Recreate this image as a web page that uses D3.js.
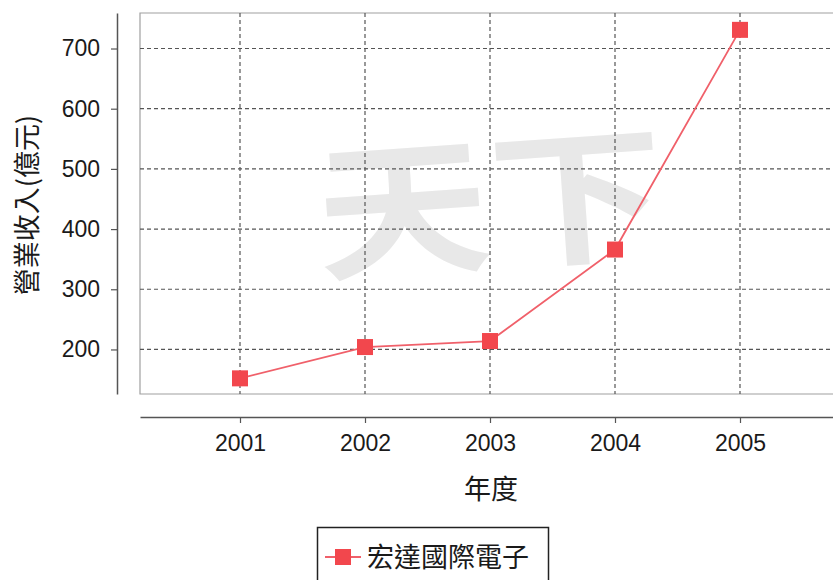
<!DOCTYPE html>
<html>
<head>
<meta charset="utf-8">
<script src="https://cdn.jsdelivr.net/npm/d3@7/dist/d3.min.js"></script>
<style>
  body { margin: 0; background: #fff; }
  svg { display: block; }
</style>
</head>
<body>
<svg id="chart"></svg>
<script>
// chart data
var years = [2001, 2002, 2003, 2004, 2005];
var revenue = [152, 204, 214, 366, 731];
var yTicks = [200, 300, 400, 500, 600, 700];
var seriesName = "宏達國際電子";
var yTitle = "營業收入(億元)";
var xTitle = "年度";
var watermark = "天下";

var w = 833, h = 580;
var cjk = "'Noto Sans CJK TC', 'Noto Sans CJK SC', sans-serif";
var latin = "'Liberation Sans', Arial, sans-serif";

var svg = d3.select('#chart')
    .attr('width', w)
    .attr('height', h);

var x = d3.scaleLinear()
    .domain([2000.2, 2005.8])
    .range([140, 840]);

var y = d3.scaleLinear()
    .domain([126, 759])
    .range([394, 13]);

// watermark behind everything
svg.append('text')
    .attr('x', 0)
    .attr('y', 0)
    .attr('transform', 'translate(494,258) rotate(-4) scale(1.18,1)')
    .attr('text-anchor', 'middle')
    .attr('font-family', cjk)
    .attr('font-weight', 'bold')
    .attr('font-size', 148)
    .attr('fill', '#e8e8e8')
    .text(watermark);

// plot frame
svg.append('path')
    .attr('d', 'M' + x.range()[1] + ',' + y.range()[1] + 'H' + x.range()[0] + 'V' + y.range()[0] + 'H' + x.range()[1])
    .attr('fill', 'none')
    .attr('stroke', '#a0a0a0')
    .attr('stroke-width', 1.2);

// grid
svg.append('g').selectAll('line')
    .data(yTicks)
    .enter()
    .append('line')
    .attr('x1', x.range()[0])
    .attr('x2', w)
    .attr('y1', function(d) { return y(d); })
    .attr('y2', function(d) { return y(d); })
    .attr('stroke', '#555')
    .attr('stroke-width', 1.2)
    .attr('stroke-dasharray', '4,3');

svg.append('g').selectAll('line')
    .data(years)
    .enter()
    .append('line')
    .attr('x1', function(d) { return x(d); })
    .attr('x2', function(d) { return x(d); })
    .attr('y1', y.range()[1])
    .attr('y2', y.range()[0])
    .attr('stroke', '#555')
    .attr('stroke-width', 1.2)
    .attr('stroke-dasharray', '4,3');

// axes
var yAxis = svg.append('g')
    .attr('transform', 'translate(117,0)')
    .call(d3.axisLeft(y).tickValues(yTicks).tickSize(6).tickSizeOuter(0).tickPadding(11));

var xAxis = svg.append('g')
    .attr('transform', 'translate(0,417)')
    .call(d3.axisBottom(x).tickValues(years).tickFormat(d3.format('d')).tickSize(6).tickSizeOuter(0).tickPadding(12));

[yAxis, xAxis].forEach(function(a) {
  a.select('.domain').attr('stroke', '#555').attr('stroke-width', 1.5);
  a.selectAll('.tick line').attr('stroke', '#555').attr('stroke-width', 1.2);
  a.selectAll('.tick text')
    .attr('font-family', latin)
    .attr('font-size', 23)
    .attr('fill', '#1a1a1a');
});

// series
var pts = years.map(function(d, i) { return [d, revenue[i]]; });

svg.append('path')
    .datum(pts)
    .attr('fill', 'none')
    .attr('stroke', '#f0606a')
    .attr('stroke-width', 1.8)
    .attr('d', d3.line()
      .x(function(d) { return x(d[0]); })
      .y(function(d) { return y(d[1]); }));

svg.append('g').selectAll('rect')
    .data(pts)
    .enter()
    .append('rect')
    .attr('x', function(d) { return x(d[0]) - 8; })
    .attr('y', function(d) { return y(d[1]) - 8; })
    .attr('width', 16)
    .attr('height', 16)
    .attr('fill', '#f2474d');

// titles
svg.append('text')
    .attr('transform', 'translate(37,205) rotate(-90)')
    .attr('text-anchor', 'middle')
    .attr('font-family', cjk)
    .attr('font-size', 27)
    .attr('fill', '#1a1a1a')
    .text(yTitle);

svg.append('text')
    .attr('x', 491)
    .attr('y', 499)
    .attr('text-anchor', 'middle')
    .attr('font-family', cjk)
    .attr('font-size', 27)
    .attr('fill', '#1a1a1a')
    .text(xTitle);

// legend
var legend = svg.append('g');
legend.append('rect')
    .attr('x', 317.5)
    .attr('y', 527.5)
    .attr('width', 231)
    .attr('height', 70)
    .attr('fill', '#fff')
    .attr('stroke', '#222')
    .attr('stroke-width', 1.5);
legend.append('line')
    .attr('x1', 325).attr('x2', 361)
    .attr('y1', 557).attr('y2', 557)
    .attr('stroke', '#f0606a')
    .attr('stroke-width', 1.8);
legend.append('rect')
    .attr('x', 335).attr('y', 549)
    .attr('width', 16).attr('height', 16)
    .attr('fill', '#f2474d');
legend.append('text')
    .attr('x', 367)
    .attr('y', 567)
    .attr('font-family', cjk)
    .attr('font-size', 27)
    .attr('fill', '#1a1a1a')
    .text(seriesName);
</script>
</body>
</html>
